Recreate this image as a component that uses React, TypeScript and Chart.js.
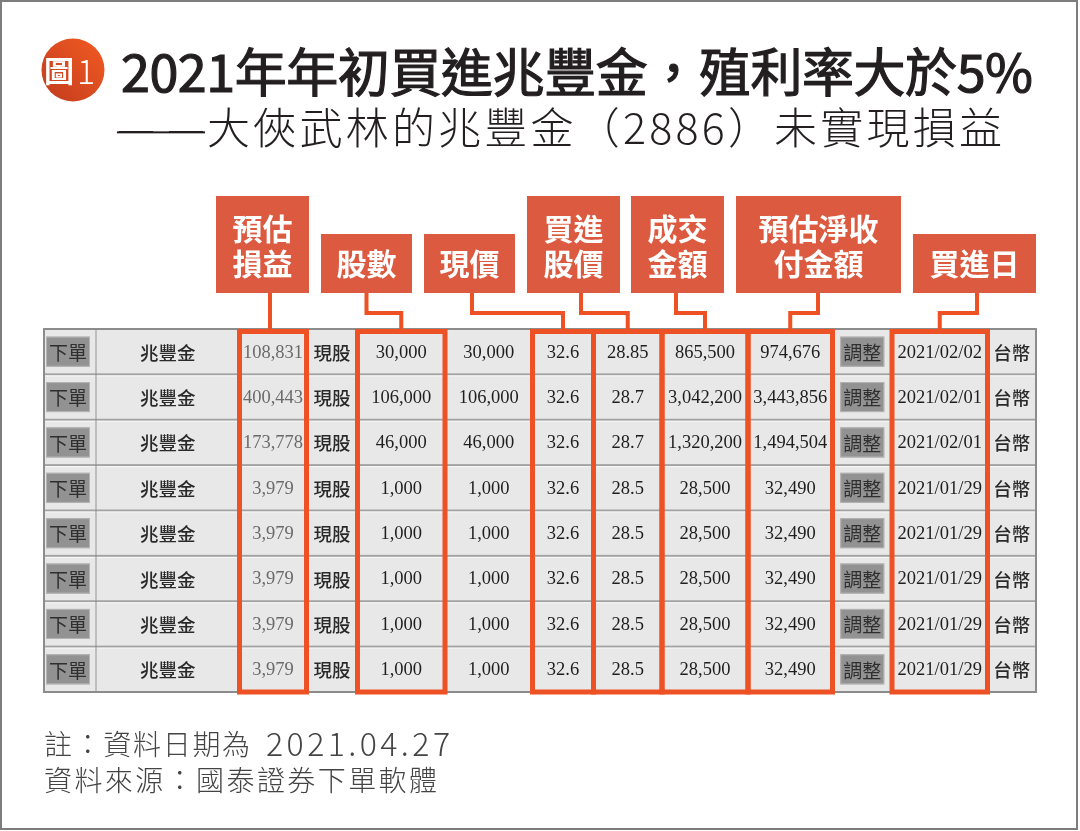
import React, { useEffect, useRef } from 'react';
import { Chart, registerables } from 'chart.js';

Chart.register(...registerables);

// ---------------- DATA ----------------
const rowLabels = ['1', '2', '3', '4', '5', '6', '7', '8'];
const orderButtons = ['下單', '下單', '下單', '下單', '下單', '下單', '下單', '下單'];
const stockNames = ['兆豐金', '兆豐金', '兆豐金', '兆豐金', '兆豐金', '兆豐金', '兆豐金', '兆豐金'];
const estProfit = [108831, 400443, 173778, 3979, 3979, 3979, 3979, 3979];
const tradeTypes = ['現股', '現股', '現股', '現股', '現股', '現股', '現股', '現股'];
const shares = [30000, 106000, 46000, 1000, 1000, 1000, 1000, 1000];
const availableShares = [30000, 106000, 46000, 1000, 1000, 1000, 1000, 1000];
const currentPrices = [32.6, 32.6, 32.6, 32.6, 32.6, 32.6, 32.6, 32.6];
const buyPrices = [28.85, 28.7, 28.7, 28.5, 28.5, 28.5, 28.5, 28.5];
const tradeAmounts = [865500, 3042200, 1320200, 28500, 28500, 28500, 28500, 28500];
const netAmounts = [974676, 3443856, 1494504, 32490, 32490, 32490, 32490, 32490];
const adjustButtons = ['調整', '調整', '調整', '調整', '調整', '調整', '調整', '調整'];
const buyDates = ['2021/02/02', '2021/02/01', '2021/02/01', '2021/01/29', '2021/01/29', '2021/01/29', '2021/01/29', '2021/01/29'];
const currencies = ['台幣', '台幣', '台幣', '台幣', '台幣', '台幣', '台幣', '台幣'];

const columnNames = ['下單', '股票名稱', '預估損益', '交易類別', '股數', '可用股數', '現價', '買進股價', '成交金額', '預估淨收付金額', '調整', '買進日', '幣別'];

const calloutLabels = [['預估', '損益'], ['股數'], ['現價'], ['買進', '股價'], ['成交', '金額'], ['預估淨收', '付金額'], ['買進日']];
const calloutColumns = [2, 4, 6, 7, 8, 9, 11];

const titleText = '2021年年初買進兆豐金，殖利率大於5%';
const subtitleDash = '——';
const subtitleText = '大俠武林的兆豐金（2886）未實現損益';
const badgeText = '圖1';
const noteLabel = '註：資料日期為 ';
const noteDate = '2021.04.27';
const sourceLine = '資料來源：國泰證券下單軟體';

// ---------------- LAYOUT / STYLE ----------------
const colWidths = [52, 143.5, 67, 51, 87.5, 87.5, 61, 68.5, 86, 84.5, 59.5, 95.5, 48.5];
const tableWidth = colWidths.reduce((a, b) => a + b, 0);
const calloutBoxes = [
  { x0: 216, x1: 309, drop: 270 },
  { x0: 321, x1: 412, drop: 366.5 },
  { x0: 424, x1: 515, drop: 472 },
  { x0: 527, x1: 620, drop: 581 },
  { x0: 631, x1: 724, drop: 676 },
  { x0: 736, x1: 901, drop: 818 },
  { x0: 913, x1: 1036, drop: 977 },
];

const CJK = '"Noto Sans CJK TC", "Noto Sans CJK SC", sans-serif';
const SERIF = '"Liberation Serif", "Times New Roman", serif';
const ORANGE = '#EE5123';
const LABEL_FILL = '#DB5A40';

const fmtInt = (v: number) => v.toLocaleString('en-US');

type ColSpec = { kind: 'button' | 'cjk' | 'num'; values: string[]; color?: string };
const columnSpecs: ColSpec[] = [
  { kind: 'button', values: orderButtons },
  { kind: 'cjk', values: stockNames },
  { kind: 'num', values: estProfit.map(fmtInt), color: '#6a6a6a' },
  { kind: 'cjk', values: tradeTypes },
  { kind: 'num', values: shares.map(fmtInt) },
  { kind: 'num', values: availableShares.map(fmtInt) },
  { kind: 'num', values: currentPrices.map(String) },
  { kind: 'num', values: buyPrices.map(String) },
  { kind: 'num', values: tradeAmounts.map(fmtInt) },
  { kind: 'num', values: netAmounts.map(fmtInt) },
  { kind: 'button', values: adjustButtons },
  { kind: 'num', values: buyDates },
  { kind: 'cjk', values: currencies },
];

function drawFitted(
  ctx: CanvasRenderingContext2D,
  text: string,
  x: number,
  y: number,
  width: number,
  font: string,
  strokeW = 0
) {
  ctx.font = font;
  const chars = Array.from(text);
  const widths = chars.map((c) => ctx.measureText(c).width);
  const natural = widths.reduce((a, b) => a + b, 0);
  const gap = chars.length > 1 ? (width - natural) / (chars.length - 1) : 0;
  let cx = x;
  chars.forEach((c, i) => {
    ctx.fillText(c, cx, y);
    if (strokeW > 0) {
      ctx.lineWidth = strokeW;
      ctx.strokeText(c, cx, y);
    }
    cx += widths[i] + gap;
  });
}

const decorPlugin = {
  id: 'tableDecor',
  beforeDraw(chart: any) {
    const ctx = chart.ctx as CanvasRenderingContext2D;
    ctx.save();
    ctx.fillStyle = '#ffffff';
    ctx.fillRect(0, 0, chart.width, chart.height);
    ctx.restore();
  },
  afterDraw(chart: any) {
    const ctx = chart.ctx as CanvasRenderingContext2D;
    const area = chart.chartArea;
    const metas = columnSpecs.map((_, i) => chart.getDatasetMeta(i));
    const cols = metas.map((m: any) => {
      const el = m.data[0];
      const p = el.getProps(['x', 'base'], true);
      return { left: Math.min(p.x, p.base), right: Math.max(p.x, p.base) };
    });
    const rows = metas[0].data.map((el: any) => {
      const p = el.getProps(['y', 'height'], true);
      return { top: p.y - p.height / 2, bottom: p.y + p.height / 2, cy: p.y };
    });

    ctx.save();
    // row dividers
    rows.forEach((r: any, i: number) => {
      if (i === 0) return;
      ctx.fillStyle = '#a2a2a2';
      ctx.fillRect(area.left, r.top - 1, area.right - area.left, 2);
      ctx.fillStyle = '#f8f8f8';
      ctx.fillRect(area.left, r.top + 1, area.right - area.left, 1);
    });
    // dark divider after button column
    ctx.fillStyle = '#8a8a8a';
    ctx.fillRect(cols[0].right - 0.5, area.top, 1, area.bottom - area.top);

    // cell contents
    ctx.textBaseline = 'middle';
    ctx.textAlign = 'center';
    columnSpecs.forEach((spec, ci) => {
      const c = cols[ci];
      const cx = (c.left + c.right) / 2;
      rows.forEach((r: any, ri: number) => {
        const txt = spec.values[ri];
        if (spec.kind === 'button') {
          const bw = 44;
          const bh = 30;
          const bx = ci === 0 ? c.left + 2 : cx - bw / 2;
          const by = r.cy - bh / 2;
          ctx.fillStyle = '#929292';
          ctx.fillRect(bx, by, bw, bh);
          ctx.strokeStyle = '#b4b4b4';
          ctx.lineWidth = 1;
          ctx.strokeRect(bx + 0.5, by + 0.5, bw - 1, bh - 1);
          ctx.fillStyle = '#2f2f2f';
          ctx.font = `19px ${CJK}`;
          ctx.fillText(txt, bx + bw / 2, r.cy + 1);
        } else if (spec.kind === 'cjk') {
          ctx.fillStyle = '#2a2a2a';
          ctx.font = `500 18.5px ${CJK}`;
          ctx.fillText(txt, cx, r.cy + 1);
        } else {
          ctx.fillStyle = spec.color || '#1e1e1e';
          ctx.font = `18.5px ${SERIF}`;
          ctx.fillText(txt, cx, r.cy + 1);
        }
      });
    });

    // table border
    ctx.strokeStyle = '#8c8c8c';
    ctx.lineWidth = 2;
    ctx.strokeRect(area.left, area.top, area.right - area.left, area.bottom - area.top);

    // orange highlight boxes
    ctx.strokeStyle = ORANGE;
    ctx.lineWidth = 5;
    ctx.lineJoin = 'miter';
    calloutColumns.forEach((ci) => {
      const c = cols[ci];
      ctx.strokeRect(c.left, area.top + 2.5, c.right - c.left, area.bottom - area.top - 2.5);
    });

    // callout labels
    const boxBottom = 293;
    calloutLabels.forEach((lines, i) => {
      const b = calloutBoxes[i];
      const top = lines.length === 2 ? 196 : 234;
      ctx.fillStyle = LABEL_FILL;
      ctx.fillRect(b.x0, top, b.x1 - b.x0, boxBottom - top);
      ctx.fillStyle = '#ffffff';
      ctx.font = `bold 30px ${CJK}`;
      ctx.textAlign = 'center';
      ctx.textBaseline = 'middle';
      const cx = (b.x0 + b.x1) / 2;
      lines.forEach((ln, li) => {
        const y = 263 - (lines.length - 1 - li) * 35;
        ctx.fillText(ln, cx, y + 1);
      });
      // connector
      const c = cols[calloutColumns[i]];
      const target = (c.left + c.right) / 2;
      ctx.strokeStyle = ORANGE;
      ctx.lineWidth = 4;
      ctx.beginPath();
      if (Math.abs(target - b.drop) < 8) {
        ctx.moveTo(b.drop, boxBottom);
        ctx.lineTo(b.drop, area.top + 2);
      } else {
        ctx.moveTo(b.drop, boxBottom);
        ctx.lineTo(b.drop, 313);
        ctx.lineTo(target, 313);
        ctx.lineTo(target, area.top + 2);
      }
      ctx.stroke();
    });

    // badge
    const grad = ctx.createLinearGradient(42, 100, 104, 40);
    grad.addColorStop(0, '#c23c1e');
    grad.addColorStop(1, '#f25b22');
    ctx.fillStyle = grad;
    ctx.beginPath();
    ctx.arc(73, 70, 31.5, 0, Math.PI * 2);
    ctx.fill();
    ctx.fillStyle = '#ffffff';
    ctx.textAlign = 'left';
    ctx.textBaseline = 'middle';
    ctx.font = `bold 30px ${CJK}`;
    ctx.fillText(badgeText.slice(0, 1), 44, 71);
    ctx.font = `300 34px ${CJK}`;
    ctx.fillText(badgeText.slice(1), 77, 71);

    // title
    ctx.fillStyle = '#231f20';
    ctx.strokeStyle = '#231f20';
    drawFitted(ctx, titleText, 121, 72, 912, `400 52px ${CJK}`, 1.2);

    // subtitle
    ctx.fillStyle = '#231f20';
    const dashFont = `300 43px ${CJK}`;
    drawFitted(ctx, subtitleDash, 117, 128, 88, dashFont);
    ctx.font = dashFont;
    const dm = ctx.measureText('—');
    const dTop = 128 - dm.actualBoundingBoxAscent;
    const dH = Math.max(1.2, dm.actualBoundingBoxAscent + dm.actualBoundingBoxDescent);
    ctx.fillRect(117, dTop, 88, dH);
    drawFitted(ctx, subtitleText, 207, 128, 795, `300 43px ${CJK}`);

    // notes
    ctx.fillStyle = '#444444';
    drawFitted(ctx, noteLabel, 44, 744, 214, `300 28px ${CJK}`);
    drawFitted(ctx, noteDate, 266, 744, 184, `300 32px ${CJK}`);
    drawFitted(ctx, sourceLine, 44, 780, 393, `300 28px ${CJK}`);

    // frame
    ctx.strokeStyle = '#7d7d7d';
    ctx.lineWidth = 2;
    ctx.strokeRect(1, 1, 1076, 828);
    ctx.restore();
  },
};

export default function App() {
  const canvasRef = useRef<HTMLCanvasElement | null>(null);

  useEffect(() => {
    const canvas = canvasRef.current;
    if (!canvas) return;
    const chart = new Chart(canvas, {
      type: 'bar',
      data: {
        labels: rowLabels,
        datasets: columnSpecs.map((_, i) => ({
          label: columnNames[i],
          data: rowLabels.map(() => colWidths[i]),
          backgroundColor: '#e8e8e8',
          borderColor: '#f7f7f7',
          borderWidth: { left: 1, right: 1, top: 1, bottom: 0 },
          borderSkipped: false,
          categoryPercentage: 1,
          barPercentage: 1,
        })),
      },
      options: {
        indexAxis: 'y',
        responsive: false,
        animation: false,
        devicePixelRatio: 1,
        events: [],
        layout: { padding: { left: 44, right: 44, top: 329, bottom: 139 } },
        scales: {
          x: { stacked: true, display: false, min: 0, max: tableWidth },
          y: { stacked: true, display: false },
        },
        plugins: {
          legend: { display: false },
          tooltip: { enabled: false },
          title: { display: false },
        },
      } as any,
      plugins: [decorPlugin as any],
    });
    return () => chart.destroy();
  }, []);

  return (
    <div style={{ position: 'fixed', left: 0, top: 0, width: 1080, height: 831, background: '#fff' }}>
      <canvas ref={canvasRef} width={1080} height={831} style={{ display: 'block', width: 1080, height: 831 }} />
    </div>
  );
}
